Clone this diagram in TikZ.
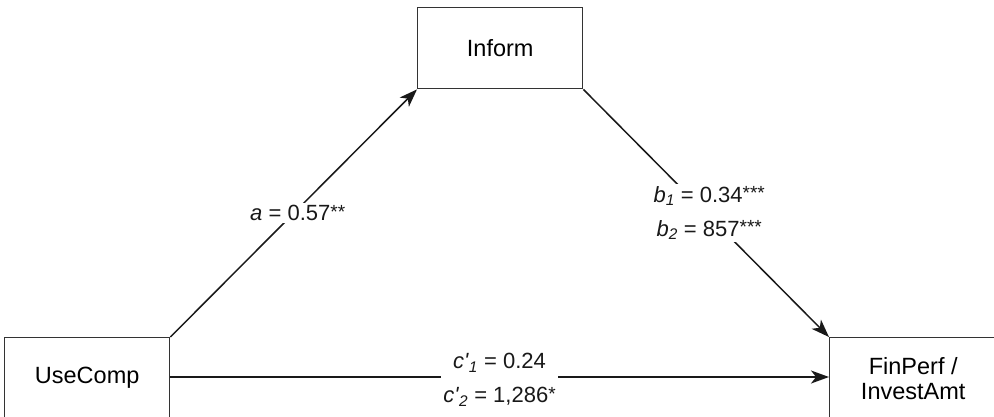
\documentclass[tikz,border=0pt]{standalone}
\usepackage{fontspec}
\setmainfont{Liberation Sans}
\usetikzlibrary{arrows.meta}
\newcommand{\supx}[1]{\raisebox{2.5pt}{\fontsize{19}{19}\selectfont #1}}
\newcommand{\subx}[1]{\textsubscript{\textit{#1}}}
\begin{document}
\begin{tikzpicture}[x=1pt,y=-1pt,
  box/.style={draw=black!80, line width=1.4pt, minimum width=165pt, minimum height=81pt, inner sep=0pt, anchor=north west, font=\fontsize{23.5}{27}\selectfont, align=center},
  conn/.style={line width=1.5pt, black!90, -{Stealth[length=18pt,width=13pt,inset=5pt]}},
  lbl/.style={fill=white, inner sep=2pt, font=\fontsize{22}{34}\selectfont, align=center}]
\useasboundingbox (0,0) rectangle (994,416);
\clip (0,0) rectangle (994,416);
\node[box] (inform) at (417,7) {Inform};
\node[box] (usecomp) at (4,337) {UseComp};
\node[box, minimum width=167pt] (finperf) at (829,337) {FinPerf /\\[-2pt]InvestAmt};
\coordinate (ucR) at (170,377);
\coordinate (fpL) at (829,377);
\draw[conn] (usecomp.north east) -- (inform.south west) node[lbl, midway, xshift=4pt] {\textit{a} = 0.57\supx{**}};
\draw[conn] (inform.south east) -- (finperf.north west) node[lbl, midway, xshift=3pt] {\textit{b}\subx{1} = 0.34\supx{***}\\\textit{b}\subx{2} = 857\supx{***}};
\draw[conn] (ucR) -- (fpL) node[lbl, midway, yshift=-3pt] {\textit{c\textquotesingle}\subx{1} = 0.24\\\textit{c\textquotesingle}\subx{2} = 1,286\supx{*}};
\end{tikzpicture}
\end{document}
